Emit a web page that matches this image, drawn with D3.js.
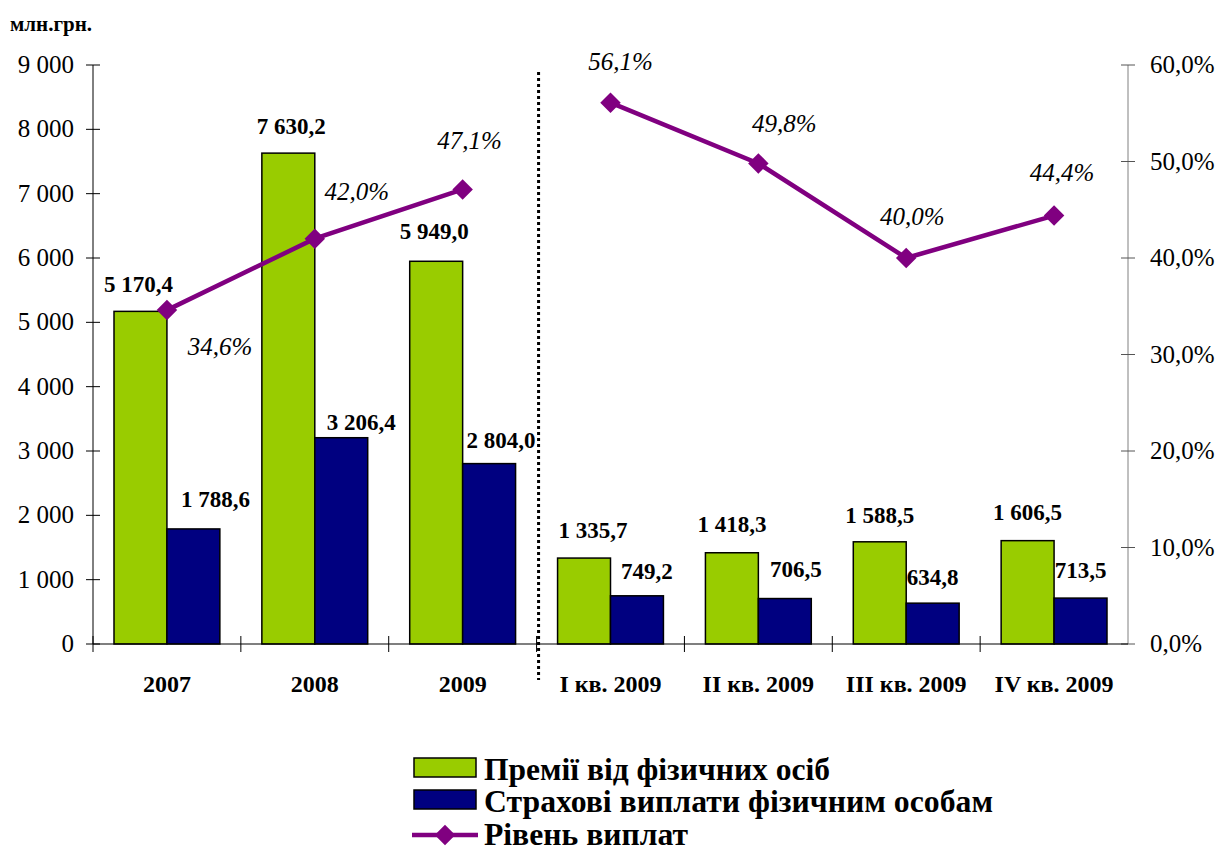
<!DOCTYPE html>
<html><head><meta charset="utf-8">
<script src="https://cdn.jsdelivr.net/npm/d3@7"></script>
</head><body style="margin:0;background:#fff">
<svg id="c" width="1224" height="854" style="font-family:'Liberation Serif','Times New Roman',serif"></svg>
<script>
// ---- data ----
const categories = ["2007","2008","2009","I кв. 2009","II кв. 2009","III кв. 2009","IV кв. 2009"];
const premiums = [5170.4, 7630.2, 5949.0, 1335.7, 1418.3, 1588.5, 1606.5];
const payouts  = [1788.6, 3206.4, 2804.0, 749.2, 706.5, 634.8, 713.5];
const payoutRatio = [34.6, 42.0, 47.1, 56.1, 49.8, 40.0, 44.4];
const leftTicks = [0,1000,2000,3000,4000,5000,6000,7000,8000,9000];
const rightTicks = [0,10,20,30,40,50,60];
const seriesNames = ["Премії від фізичних осіб","Страхові виплати фізичним особам","Рівень виплат"];
const unitLabel = "млн.грн.";
const lineSegments = [[0,1,2],[3,4,5,6]];

// ---- label nudges (layout only) ----
const greenLblDx = [-2,3,-2,9,0,0,0], greenLblDy = [-19,-19,-22,-20,-21,-19,-21];
const blueLblDx = [22,20,12,10,11,0,0], blueLblDy = [-22,-8,-16,-17,-22,-18,-20];
const pctLblDx = [53,42,7,10,26,6,8], pctLblDy = [45,-39,-40,-33,-31,-33,-35];

const FONT = "'Liberation Serif', 'Times New Roman', serif";
const colors = {green:"#99CC00", blue:"#000080", purple:"#800080"};
const loc = d3.formatLocale({decimal:",", thousands:"\u00a0", grouping:[3], currency:["",""]});
const fmtVal = loc.format(",.1f");
const fmtTick = loc.format(",d");
const fmtPct = v => loc.format(".1f")(v) + "%";

const svg = d3.select("#c");
const L = 93, R = 1128, T = 65, B = 644;
const x = d3.scaleBand().domain(categories).range([L, R]).padding(0);
const x1 = d3.scaleBand().domain([0,1]).range([21, x.bandwidth()-21]).padding(0);
const y = d3.scaleLinear().domain([0,9000]).range([B, T]);
const y2 = d3.scaleLinear().domain([0,60]).range([B, T]);

// unit label
svg.append("text").attr("x",10).attr("y",31).attr("font-size",21).attr("font-weight","bold").text(unitLabel);

// left axis
const gl = svg.append("g").attr("transform",`translate(${L},0)`);
gl.append("line").attr("x1",0).attr("x2",0).attr("y1",T).attr("y2",B).attr("stroke","#000");
gl.selectAll("line.t").data(leftTicks).join("line").attr("class","t")
  .attr("x1",-7).attr("x2",7).attr("y1",d=>y(d)).attr("y2",d=>y(d)).attr("stroke","#000");
gl.selectAll("text").data(leftTicks).join("text")
  .attr("x",-19).attr("y",d=>y(d)+8).attr("text-anchor","end").attr("font-size",25).text(d=>fmtTick(d));

// right axis
const gr = svg.append("g").attr("transform",`translate(${R},0)`);
gr.append("line").attr("x1",0).attr("x2",0).attr("y1",T).attr("y2",B).attr("stroke","#808080");
gr.selectAll("line.t").data(rightTicks).join("line").attr("class","t")
  .attr("x1",-7).attr("x2",7).attr("y1",d=>y2(d)).attr("y2",d=>y2(d)).attr("stroke","#555");
gr.selectAll("text").data(rightTicks).join("text")
  .attr("x",22).attr("y",d=>y2(d)+8).attr("text-anchor","start").attr("font-size",25).text(d=>fmtPct(d));

// bars
const groups = svg.append("g").selectAll("g").data(categories).join("g")
  .attr("transform",d=>`translate(${x(d)},0)`);
groups.append("rect").attr("x",x1(0)).attr("width",x1.bandwidth())
  .attr("y",(d,i)=>y(premiums[i])).attr("height",(d,i)=>B-y(premiums[i]))
  .attr("fill",colors.green).attr("stroke","#000").attr("stroke-width",1.5);
groups.append("rect").attr("x",x1(1)).attr("width",x1.bandwidth())
  .attr("y",(d,i)=>y(payouts[i])).attr("height",(d,i)=>B-y(payouts[i]))
  .attr("fill",colors.blue).attr("stroke","#000").attr("stroke-width",1.5);

// bottom axis
const gb = svg.append("g");
gb.append("line").attr("x1",L).attr("x2",R).attr("y1",B).attr("y2",B).attr("stroke","#000").attr("stroke-width",1.2);
gb.selectAll("line.t").data(categories).join("line").attr("class","t")
  .attr("x1",d=>x(d)).attr("x2",d=>x(d)).attr("y1",B-8).attr("y2",B+8).attr("stroke","#000");
gb.selectAll("text").data(categories).join("text")
  .attr("x",d=>x(d)+x.bandwidth()/2).attr("y",692).attr("text-anchor","middle")
  .attr("font-size",24).attr("font-weight","bold").text(d=>d);

// divider
const divX = x(categories[3]) + 2;
svg.append("line").attr("x1",divX).attr("x2",divX).attr("y1",72).attr("y2",680)
  .attr("stroke","#000").attr("stroke-width",3).attr("stroke-dasharray","3,3");

// bar value labels
groups.append("text").attr("x",(d,i)=>x1(0)+x1.bandwidth()/2+greenLblDx[i])
  .attr("y",(d,i)=>y(premiums[i])+greenLblDy[i]).attr("text-anchor","middle")
  .attr("font-size",23).attr("font-weight","bold").text((d,i)=>fmtVal(premiums[i]));
groups.append("text").attr("x",(d,i)=>x1(1)+x1.bandwidth()/2+blueLblDx[i])
  .attr("y",(d,i)=>y(payouts[i])+blueLblDy[i]).attr("text-anchor","middle")
  .attr("font-size",23).attr("font-weight","bold").text((d,i)=>fmtVal(payouts[i]));

// line
const cx = i => x(categories[i]) + x.bandwidth()/2;
const line = d3.line().x(i=>cx(i)).y(i=>y2(payoutRatio[i]));
svg.append("g").selectAll("path").data(lineSegments).join("path")
  .attr("d",line).attr("fill","none").attr("stroke",colors.purple).attr("stroke-width",4.5);
const diamond = d3.symbol().type(d3.symbolSquare).size(210);
svg.append("g").selectAll("path").data(payoutRatio).join("path")
  .attr("d",diamond).attr("fill",colors.purple)
  .attr("transform",(d,i)=>`translate(${cx(i)},${y2(d)}) rotate(45)`);
svg.append("g").selectAll("text").data(payoutRatio).join("text")
  .attr("x",(d,i)=>cx(i)+pctLblDx[i]).attr("y",(d,i)=>y2(d)+pctLblDy[i])
  .attr("text-anchor","middle").attr("font-size",25).attr("font-style","italic").text(d=>fmtPct(d));

// legend
const lg = svg.append("g");
const legY = [780, 812, 845];
const legW = [346, 509, 204];
[0,1].forEach(k=>{
  lg.append("rect").attr("x",414).attr("y",legY[k]-22).attr("width",62).attr("height",19)
    .attr("fill",k===0?colors.green:colors.blue).attr("stroke","#000").attr("stroke-width",1.5);
});
lg.append("line").attr("x1",412).attr("x2",478).attr("y1",legY[2]-10).attr("y2",legY[2]-10)
  .attr("stroke",colors.purple).attr("stroke-width",4.5);
lg.append("path").attr("d",diamond).attr("fill",colors.purple)
  .attr("transform",`translate(445,${legY[2]-10}) rotate(45)`);
seriesNames.forEach((s,k)=>{
  lg.append("text").attr("x",484).attr("y",legY[k]).attr("font-size",31).attr("font-weight","bold")
    .attr("textLength",legW[k]).attr("lengthAdjust","spacingAndGlyphs").text(s);
});

svg.selectAll("text").style("font-family", FONT, "important");
</script>
</body></html>
